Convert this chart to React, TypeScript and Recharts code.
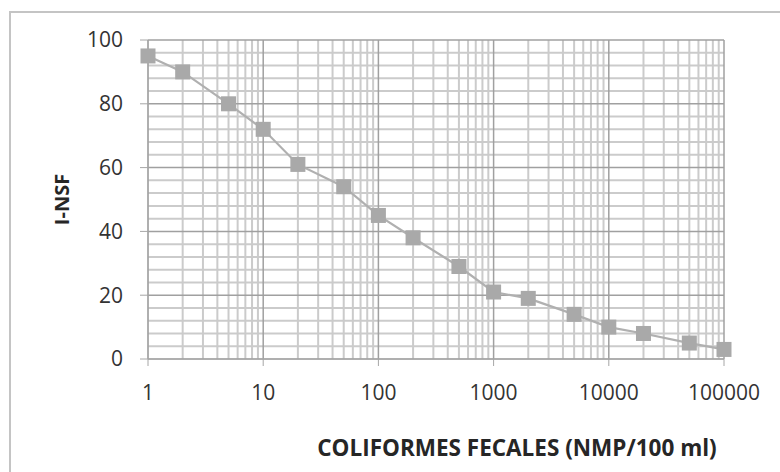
import React from 'react';
import { LineChart, Line, XAxis, YAxis, CartesianGrid } from 'recharts';

const coliformes = [1, 2, 5, 10, 20, 50, 100, 200, 500, 1000, 2000, 5000, 10000, 20000, 50000, 100000];
const insf = [95, 90, 80, 72, 61, 54, 45, 38, 29, 21, 19, 14, 10, 8, 5, 3];
const xTicks = [1, 10, 100, 1000, 10000, 100000];
const yTicks = [0, 20, 40, 60, 80, 100];

const data = coliformes.map((c, i) => ({ x: c, y: insf[i] }));

// minor grid: 2..9 inside every decade, every 4 units on y
const minorX: number[] = [];
xTicks.slice(0, -1).forEach((d) => {
  for (let k = 2; k <= 9; k++) minorX.push(d * k);
});
const minorY: number[] = [];
for (let v = 4; v < 100; v += 4) if (v % 20 !== 0) minorY.push(v);

const FONT = '"Open Sans", sans-serif';

const SquareDot = (props: any) => {
  const { cx, cy } = props;
  if (cx == null || cy == null) return null;
  return <rect x={cx - 7.5} y={cy - 7.5} width={15} height={15} fill="#a9a9a9" />;
};

const YTitle = (props: any) => {
  const vb = props.viewBox;
  const x = vb.x + 13;
  const y = vb.y + vb.height / 2;
  return (
    <text x={x} y={y} transform={`rotate(-90 ${x} ${y})`} textAnchor="middle" dominantBaseline="central"
      fontFamily={FONT} fontWeight={700} fontSize={20} fill="#262626">
      I-NSF
    </text>
  );
};

const XTitle = (props: any) => {
  const vb = props.viewBox;
  return (
    <text x={vb.x + vb.width / 2 + 81} y={456} textAnchor="middle"
      fontFamily={FONT} fontWeight={700} fontSize={22.5} fill="#262626">
      COLIFORMES FECALES (NMP/100 ml)
    </text>
  );
};

export default function App() {
  return (
    <div style={{ position: 'absolute', left: 0, top: 0, width: 780, height: 472, overflow: 'hidden', background: '#fff' }}>
      <div style={{ position: 'absolute', left: 9, top: 11, width: 820, height: 520, border: '2px solid #c4c4c4' }} />
      <div style={{ position: 'absolute', left: 0, top: 0 }}>
        <LineChart width={780} height={472} data={data} margin={{ top: 40, right: 56, bottom: 23, left: 48 }}>
          <CartesianGrid verticalValues={minorX} horizontalValues={minorY} stroke="#cbcbcb" strokeWidth={2} />
          <CartesianGrid verticalValues={xTicks} horizontalValues={yTicks} stroke="#a0a0a0" strokeWidth={1.5} />
          <XAxis
            dataKey="x"
            type="number"
            scale="log"
            domain={[1, 100000]}
            ticks={xTicks}
            interval={0}
            height={90}
            tickSize={7}
            tickMargin={19}
            stroke="#a6a6a6"
            tick={{ fill: '#333333', fontSize: 21, fontFamily: FONT }}
            label={<XTitle />}
          />
          <YAxis
            type="number"
            domain={[0, 100]}
            ticks={yTicks}
            interval={0}
            width={100}
            tickSize={8}
            tickMargin={17}
            stroke="#a6a6a6"
            tick={{ fill: '#333333', fontSize: 21, fontFamily: FONT }}
            label={<YTitle />}
          />
          <Line
            dataKey="y"
            stroke="#b0b0b0"
            strokeWidth={2.2}
            dot={<SquareDot />}
            activeDot={false}
            isAnimationActive={false}
          />
        </LineChart>
      </div>
    </div>
  );
}
